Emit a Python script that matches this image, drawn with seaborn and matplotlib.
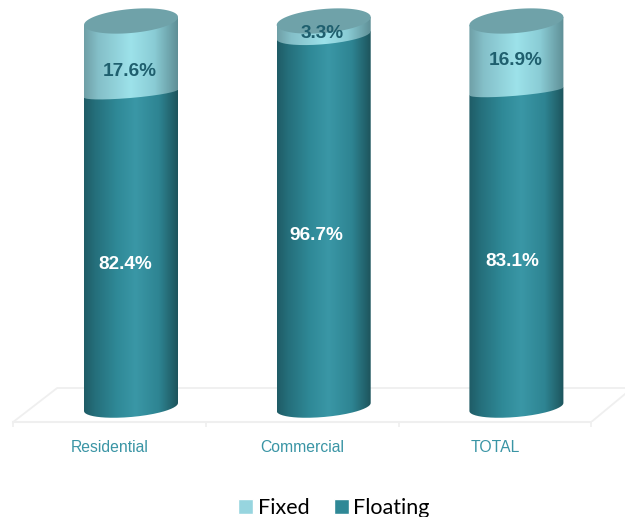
import numpy as np
import pandas as pd
import matplotlib
matplotlib.use("Agg")
import matplotlib.pyplot as plt
from matplotlib.path import Path
from matplotlib.colors import LinearSegmentedColormap
from matplotlib.ticker import FixedLocator
import seaborn as sns

categories = ["Residential", "Commercial", "TOTAL"]
floating = [82.4, 96.7, 83.1]
fixed = [17.6, 3.3, 16.9]

# style
FLOAT_C = "#2f8896"
FIXED_C = "#97d5df"
CAP_C = "#6fa2a9"
LABEL_C = "#3a95a5"
DARK_TXT = "#1f5f6e"
FLOOR_C = "#efefef"
PX_CAT = 192.7
PX_PCT = 3.86
DEPTH_PX = 21.5
A_PX = 47.0
B_PX = 10.0
TILT_PX = 4.0
BOUNDARY_B = [4.5, 9.0, 4.5]
BOUNDARY_DROP_PX = [4.5, 1.5, 5.0]
FLOAT_OFF = [(-6, -17), (-7, -15), (-4, -14.5)]
FIXED_OFF = [(-1, -17), (-2, -6), (-0.5, -7)]

sns.set_theme(style="white")
plt.rcParams["font.family"] = ["Liberation Sans", "DejaVu Sans"]

fig = plt.figure(figsize=(6.25, 5.17), dpi=100)
ax = fig.add_axes([0, (517 - 422) / 517, 1, 422 / 517])
df = pd.DataFrame({"cat": categories, "floating": floating, "fixed": fixed})

sns.barplot(data=df, x="cat", y="fixed", bottom=df["floating"], color=FIXED_C,
            saturation=1, width=94 / PX_CAT, label="Fixed", ax=ax)
n_fixed = len(ax.patches)
sns.barplot(data=df, x="cat", y="floating", color=FLOAT_C,
            saturation=1, width=94 / PX_CAT, label="Floating", ax=ax)
bars = list(ax.patches)

xlim = (-109.5 / PX_CAT, (625 - 109.5) / PX_CAT)
ylim = ((407 - 422) / PX_PCT, 407 / PX_PCT)

handles, labels = ax.get_legend_handles_labels()
leg = ax.legend(handles, labels, ncol=2, loc="lower left", frameon=False,
                bbox_to_anchor=(238 / 625, -0.002), bbox_transform=fig.transFigure,
                prop={"family": "Lato", "size": 15.5}, handlelength=0.7, handleheight=0.7,
                handletextpad=0.22, columnspacing=1.12, borderpad=0.0, borderaxespad=0.0,
                labelcolor="black")

cmap_float = LinearSegmentedColormap.from_list("fl", [(0, "#1f5c66"), (0.12, "#256f7b"), (0.35, "#2f8997"),
                                                      (0.55, "#3a97a6"), (0.8, "#2e8492"), (1, "#1d545c")])
cmap_fixed = LinearSegmentedColormap.from_list("fx", [(0, "#6f9fa6"), (0.15, "#84bfc8"), (0.5, "#9de2ea"),
                                                      (0.75, "#8accd5"), (1, "#5f8f96")])
grad = np.linspace(0, 1, 256)[None, :]


def arc(cx, cy, b, t0, t1):
    t = np.linspace(t0, t1, 80)
    # y up; the right-hand side of the cylinder sits higher (tilted ellipse)
    return np.c_[cx + A_PX / PX_CAT * np.cos(t),
                 cy + (b * np.sin(t) + TILT_PX * np.cos(t)) / PX_PCT]


def body(cx, y0, y1, b0):
    low = arc(cx, y0, b0, np.pi, 2 * np.pi)
    upper = arc(cx, y1, 0.0, 0.0, np.pi)
    return Path(np.vstack([low, upper, low[:1]]))


a = A_PX / PX_CAT
shift = DEPTH_PX / PX_CAT
for i, (fl, fx) in enumerate(zip(floating, fixed)):
    bar_fx = bars[i]
    bar_fl = bars[n_fixed + i]
    cx = bar_fl.get_x() + bar_fl.get_width() / 2 + shift
    x0, x1 = cx - a, cx + a
    top = bar_fx.get_y() + bar_fx.get_height()
    mid = bar_fx.get_y() - BOUNDARY_DROP_PX[i] / PX_PCT
    for path, cm, z in ((body(cx, 0, mid, B_PX), cmap_float, 2),
                        (body(cx, mid, top, BOUNDARY_B[i]), cmap_fixed, 3)):
        im = ax.imshow(grad, cmap=cm, aspect="auto", extent=[x0, x1, -10, 110], zorder=z, interpolation="bilinear")
        im.set_clip_path(path, transform=ax.transData)
    ax.fill(*arc(cx, top, B_PX + 2, 0, 2 * np.pi).T, color=CAP_C, lw=0, zorder=4)
    ax.annotate(f"{fl:.1f}%", (cx, fl / 2), xytext=(FLOAT_OFF[i][0] * .72, FLOAT_OFF[i][1] * .72),
                textcoords="offset points", ha="center", va="center", color="white",
                fontsize=13.7, fontweight="bold", zorder=6)
    ax.annotate(f"{fx:.1f}%", (cx, fl + fx / 2), xytext=(FIXED_OFF[i][0] * .72, FIXED_OFF[i][1] * .72),
                textcoords="offset points", ha="center", va="center", color=DARK_TXT,
                fontsize=13.7, fontweight="bold", zorder=6)

for p in bars:
    p.set_visible(False)

ax.set_xlim(*xlim)
ax.set_ylim(*ylim)
ax.set_xlabel("")
ax.set_ylabel("")
ax.set_yticks([])
ax.set_xticks(range(len(categories)))
ax.set_xticklabels(categories, fontsize=11.3, color=LABEL_C)
ax.xaxis.set_minor_locator(FixedLocator([-0.5, 0.5, 1.5, 2.5]))
ax.tick_params(axis="x", which="major", length=0, pad=13)
ax.tick_params(axis="x", which="minor", length=3.5, width=1.2, color=FLOOR_C, bottom=True)
for s in ("top", "left", "right"):
    ax.spines[s].set_visible(False)
ax.spines["bottom"].set_color(FLOOR_C)
ax.spines["bottom"].set_linewidth(1.5)
ax.spines["bottom"].set_bounds(-0.5, 2.5)
back_y = (407 - 388) / PX_PCT
front_y = ylim[0]
back_x0 = -0.5 + 44 / PX_CAT
ax.plot([-0.5, back_x0, xlim[1]], [front_y, back_y, back_y], color=FLOOR_C, lw=1.3, zorder=1)
ax.plot([2.5, 2.5 + 35 / PX_CAT], [front_y, front_y + 29 / PX_PCT], color=FLOOR_C, lw=1.3, zorder=1)

fig.savefig("out.png", dpi=100)
